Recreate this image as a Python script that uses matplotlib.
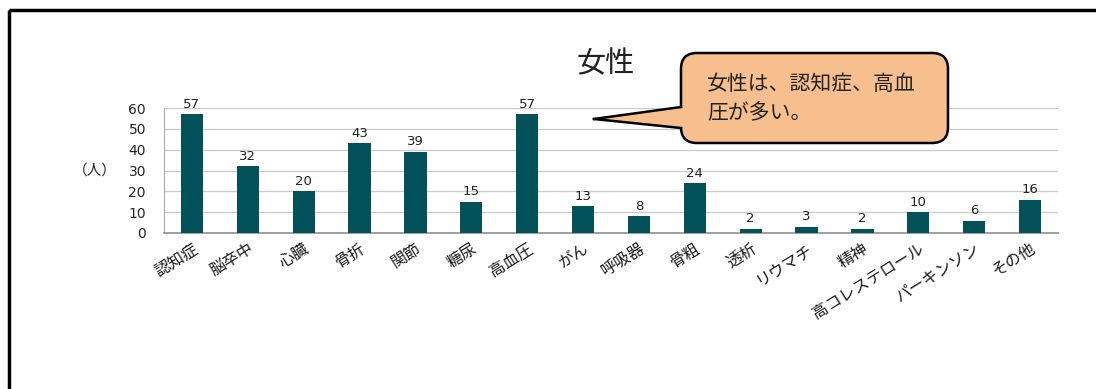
import matplotlib
matplotlib.use('Agg')
import matplotlib.pyplot as plt
from matplotlib.patches import FancyBboxPatch, Polygon, Rectangle
from matplotlib.lines import Line2D

plt.rcParams['font.family'] = ['DejaVu Sans', 'Noto Sans CJK JP']
JP = ['Noto Sans CJK JP', 'DejaVu Sans']

# 疾患別の人数（女性）
diseases = ['認知症', '脳卒中', '心臓', '骨折', '関節', '糖尿', '高血圧', 'がん', '呼吸器',
            '骨粗', '透析', 'リウマチ', '精神', '高コレステロール', 'パーキンソン', 'その他']
counts = [57, 32, 20, 43, 39, 15, 57, 13, 8, 24, 2, 3, 2, 10, 6, 16]
y_ticks = [0, 10, 20, 30, 40, 50, 60]

W, H = 1096, 389
fig = plt.figure(figsize=(W / 100, H / 100), dpi=100)

# 棒グラフ本体
ax = fig.add_axes([164 / W, (H - 233) / H, 894 / W, 125 / H])
x = range(len(diseases))
ax.bar(x, counts, width=0.4, color='#03525a', zorder=3)
for i, v in zip(x, counts):
    ax.text(i, v + 1.6, str(v), ha='center', va='bottom', fontsize=9.5, color='#222222')
ax.set_xlim(-0.5, len(diseases) - 0.5)
ax.set_ylim(0, 60)
ax.set_yticks(y_ticks)
ax.set_yticklabels([str(t) for t in y_ticks], fontsize=10, color='#222222')
ax.set_xticks(list(x))
ax.set_xticklabels(diseases, rotation=32, ha='right', va='top', rotation_mode='anchor',
                   fontsize=11.5, color='#1a1a1a', family=JP)
ax.tick_params(axis='y', length=0, pad=13)
ax.tick_params(axis='x', length=0, pad=5)
ax.grid(axis='y', color='#cccccc', linewidth=1, zorder=0)
for s in ['top', 'right']:
    ax.spines[s].set_visible(False)
ax.spines['left'].set_color('#aaaaaa')
ax.spines['bottom'].set_color('#999999')
ax.spines['bottom'].set_linewidth(1.3)
ax.text(-0.077, 0.5, '（人）', transform=ax.transAxes, ha='center', va='center',
        fontsize=10.5, family=JP, color='#222222')

# 外枠・タイトル・吹き出し（ピクセル座標の重ね描き用）
ov = fig.add_axes([0, 0, 1, 1], zorder=5)
ov.set_xlim(0, W)
ov.set_ylim(H, 0)
ov.axis('off')
ov.patch.set_alpha(0)

ov.add_patch(Rectangle((8.5, 9.5), W + 50, H + 50, fill=False, edgecolor='black', linewidth=2.5))
ov.text(606, 64, '女性', ha='center', va='center', fontsize=21, family=JP, color='#222222')

box = FancyBboxPatch((681, 53), 267, 90, boxstyle='round,pad=0,rounding_size=16',
                     facecolor='#f8bf8e', edgecolor='black', linewidth=1.8)
ov.add_patch(box)
tip = (594, 119)
ov.add_patch(Polygon([tip, (690, 107), (690, 128)], closed=True,
                     facecolor='#f8bf8e', edgecolor='none'))
ov.add_line(Line2D([tip[0], 681], [tip[1], 107], color='black', linewidth=1.8))
ov.add_line(Line2D([tip[0], 681], [tip[1], 128], color='black', linewidth=1.8))
ov.text(707, 84, '女性は、認知症、高血', ha='left', va='center', fontsize=15,
        family=JP, color='#222222')
ov.text(707, 113, '圧が多い。', ha='left', va='center', fontsize=15,
        family=JP, color='#222222')

fig.savefig('out.png', dpi=100, facecolor='white')
